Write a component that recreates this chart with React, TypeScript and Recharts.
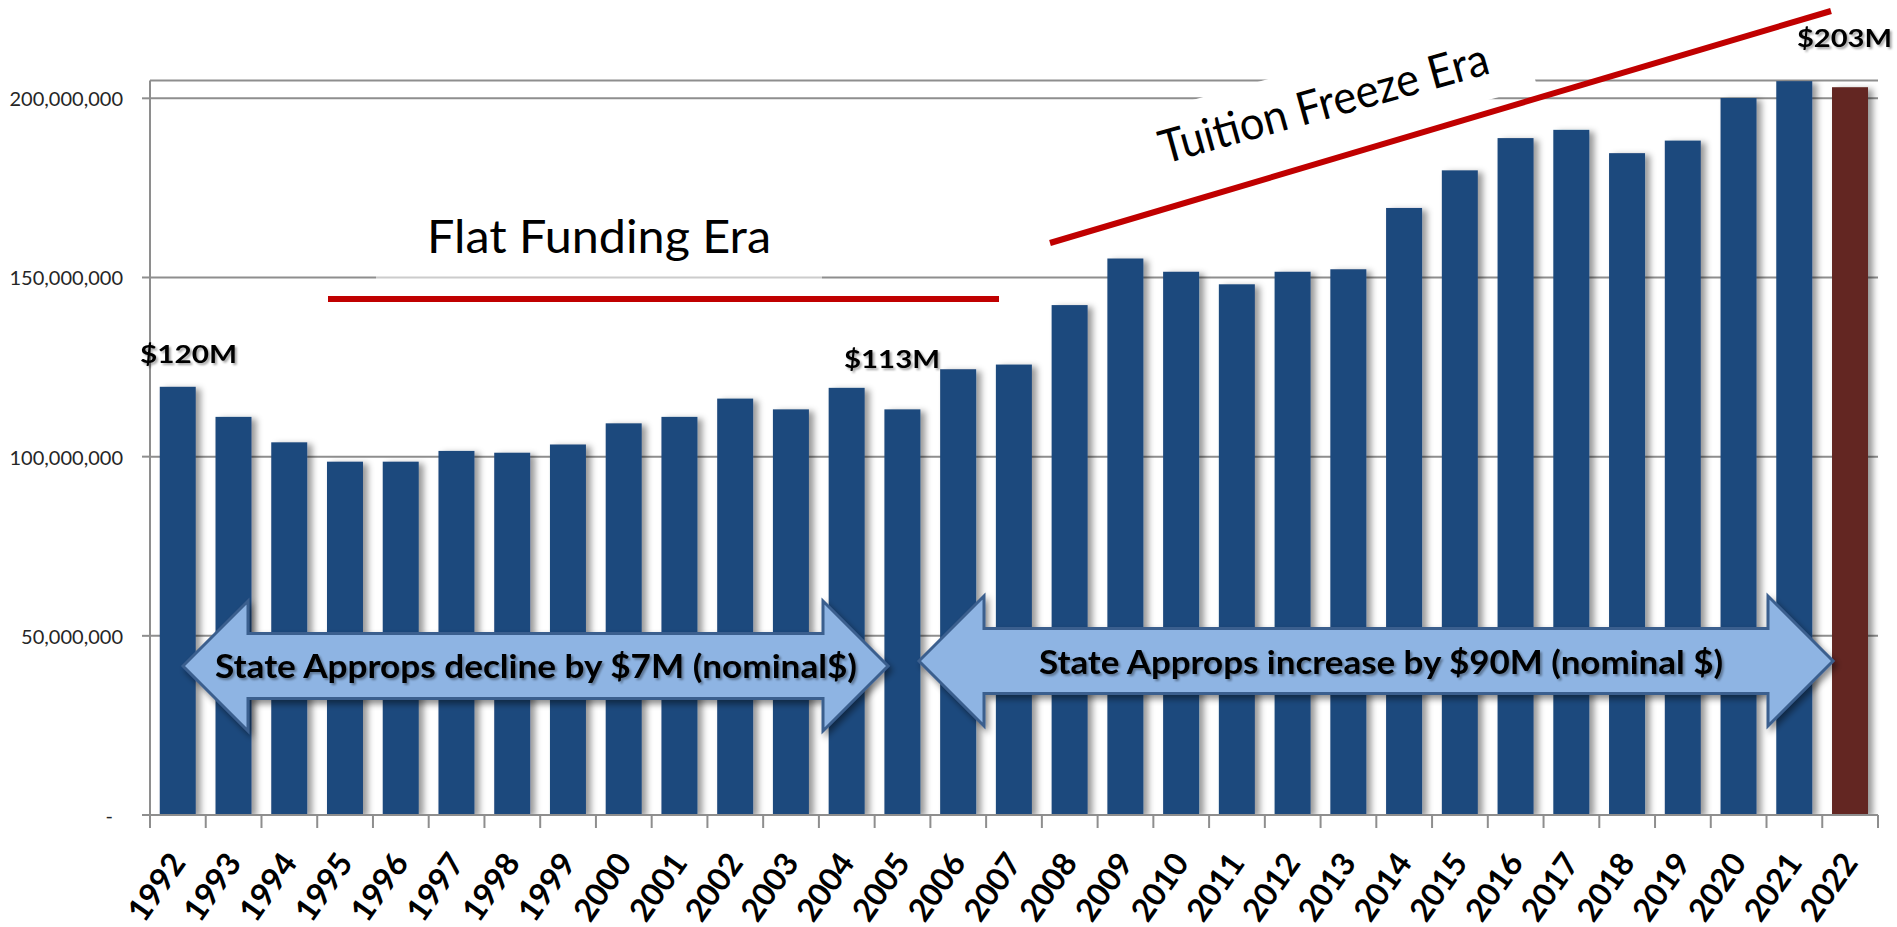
import React from 'react';
import { BarChart, Bar, XAxis, YAxis, CartesianGrid, Cell } from 'recharts';

// state appropriations by fiscal year, in $M
const years = [
  '1992', '1993', '1994', '1995', '1996', '1997', '1998', '1999', '2000', '2001',
  '2002', '2003', '2004', '2005', '2006', '2007', '2008', '2009', '2010', '2011',
  '2012', '2013', '2014', '2015', '2016', '2017', '2018', '2019', '2020', '2021', '2022',
];
const appropsM = [
  119.5, 111.1, 104.0, 98.6, 98.6, 101.6, 101.1, 103.4, 109.3, 111.1,
  116.2, 113.2, 119.2, 113.2, 124.4, 125.7, 142.3, 155.3, 151.6, 148.1,
  151.6, 152.3, 169.4, 179.9, 188.9, 191.2, 184.7, 188.2, 200.1, 204.8, 203.1,
];
const yTicks = [0, 50000000, 100000000, 150000000, 200000000];
const valueLabels = ['$120M', '$113M', '$203M'];
const eraLabels = ['Flat Funding Era', 'Tuition Freeze Era'];
const arrowLabels = [
  'State Approps decline by $7M (nominal$)',
  'State Approps increase by $90M (nominal $)',
];

const data = years.map((year, i) => ({ year, approps: appropsM[i] * 1000000 }));

const W = 1897;
const H = 927;
const PLOT_LEFT = 150;
const PLOT_RIGHT = 1878;
const AXIS_Y = 815;
const BAND = (PLOT_RIGHT - PLOT_LEFT) / years.length;

const BLUE = '#1F497D';
const MAROON = '#632523';
const RED = '#C00000';
const GRID = '#8E8E8E';
const FONT = 'Lato, "Open Sans", sans-serif';

const YTick = (props: any) => {
  const { x, y, payload } = props;
  if (payload.value === 0) {
    return (
      <text x={x - 10} y={y} textAnchor="end" dominantBaseline="central" fontFamily={FONT} fontSize={20} fill="#262626">
        -
      </text>
    );
  }
  return (
    <text x={x} y={y} textAnchor="end" dominantBaseline="central" fontFamily={FONT} fontSize={20} fill="#262626">
      {payload.value.toLocaleString('en-US')}
    </text>
  );
};

const XTick = (props: any) => {
  const { x, payload, index } = props;
  const left = x - BAND / 2;
  const lx = x + 9;
  const ly = AXIS_Y + 48;
  return (
    <g>
      <line x1={left} y1={AXIS_Y} x2={left} y2={AXIS_Y + 13} stroke={GRID} strokeWidth={2} />
      {index === years.length - 1 && (
        <line x1={x + BAND / 2} y1={AXIS_Y} x2={x + BAND / 2} y2={AXIS_Y + 13} stroke={GRID} strokeWidth={2} />
      )}
      <text
        x={lx}
        y={ly}
        textAnchor="end"
        transform={`rotate(-55 ${lx} ${ly})`}
        fontFamily={FONT}
        fontWeight={700}
        fontSize={32}
        fill="#000"
      >
        {payload.value}
      </text>
    </g>
  );
};

const BarShape = (props: any) => {
  const { x, y, width, height, fill } = props;
  return <rect x={x} y={y} width={width} height={height} fill={fill} filter="url(#barShadow)" />;
};

// double headed block arrow
const arrowPoints = (x1: number, x2: number, cy: number, body: number, head: number, len: number) =>
  [
    [x1, cy],
    [x1 + len, cy - head],
    [x1 + len, cy - body],
    [x2 - len, cy - body],
    [x2 - len, cy - head],
    [x2, cy],
    [x2 - len, cy + head],
    [x2 - len, cy + body],
    [x1 + len, cy + body],
    [x1 + len, cy + head],
  ]
    .map((p) => p.join(','))
    .join(' ');

const Overlay = () => (
  <svg width={W} height={H} style={{ position: 'absolute', left: 0, top: 0, pointerEvents: 'none' }}>
    <defs>
      <filter id="arrowShadow" x="-10%" y="-40%" width="120%" height="180%">
        <feDropShadow dx="3" dy="4" stdDeviation="3" floodColor="#000" floodOpacity="0.45" />
      </filter>
      <filter id="textShadow" x="-5%" y="-30%" width="110%" height="160%">
        <feDropShadow dx="2" dy="2" stdDeviation="1.2" floodColor="#000" floodOpacity="0.35" />
      </filter>
    </defs>

    {/* text boxes hiding the gridlines */}
    <rect x={376} y={275} width={446} height={7} fill="#fff" opacity={0.55} />
    <g transform="rotate(-15.5 1328 118.5)">
      <rect x={1328 - 210} y={118.5 - 54} width={420} height={79} fill="#fff" />
    </g>

    <line x1={328} y1={299} x2={999} y2={299} stroke={RED} strokeWidth={6} />
    <line x1={1050} y1={243} x2={1831} y2={11} stroke={RED} strokeWidth={6} />

    <text x={599} y={253} textAnchor="middle" fontFamily={FONT} fontSize={46} fill="#000" textLength={344} lengthAdjust="spacingAndGlyphs">
      {eraLabels[0]}
    </text>
    <text
      x={1328}
      y={118.5}
      textAnchor="middle"
      transform="rotate(-15.5 1328 118.5)"
      fontFamily={FONT}
      fontSize={46}
      fill="#000"
      textLength={340}
      lengthAdjust="spacingAndGlyphs"
    >
      {eraLabels[1]}
    </text>

    <g fontFamily={FONT} fontWeight={700} fontSize={25} fill="#000" filter="url(#textShadow)">
      <text x={140} y={363} textLength={97} lengthAdjust="spacingAndGlyphs">{valueLabels[0]}</text>
      <text x={844} y={368} textLength={96} lengthAdjust="spacingAndGlyphs">{valueLabels[1]}</text>
      <text x={1797} y={47} textLength={95} lengthAdjust="spacingAndGlyphs">{valueLabels[2]}</text>
    </g>

    <polygon
      points={arrowPoints(183, 888, 666, 32.5, 65, 65)}
      fill="#8EB4E3"
      stroke="#3A5F8E"
      strokeWidth={3}
      strokeLinejoin="miter"
      filter="url(#arrowShadow)"
    />
    <polygon
      points={arrowPoints(919, 1833, 661, 32.5, 65, 65)}
      fill="#8EB4E3"
      stroke="#3A5F8E"
      strokeWidth={3}
      strokeLinejoin="miter"
      filter="url(#arrowShadow)"
    />
    <g fontFamily={FONT} fontWeight={700} fontSize={32} fill="#000" filter="url(#textShadow)">
      <text x={215} y={678} textLength={642} lengthAdjust="spacingAndGlyphs">{arrowLabels[0]}</text>
      <text x={1039} y={674} textLength={684} lengthAdjust="spacingAndGlyphs">{arrowLabels[1]}</text>
    </g>
  </svg>
);

export default function App() {
  return (
    <div style={{ position: 'absolute', left: 0, top: 0, width: W, height: H, background: '#fff', overflow: 'hidden' }}>
      <BarChart
        width={W}
        height={H}
        data={data}
        margin={{ top: 80.4, right: W - PLOT_RIGHT, bottom: 0, left: 0 }}
        barCategoryGap="17.5%"
      >
        <defs>
          <filter id="barShadow" x="-20%" y="-5%" width="170%" height="110%">
            <feDropShadow dx="5" dy="2" stdDeviation="3" floodColor="#000" floodOpacity="0.4" />
          </filter>
        </defs>
        <CartesianGrid vertical={false} stroke={GRID} strokeWidth={2} />
        <XAxis
          dataKey="year"
          interval={0}
          height={H - AXIS_Y}
          tickLine={false}
          tickSize={0}
          tickMargin={0}
          axisLine={{ stroke: GRID, strokeWidth: 2 }}
          tick={<XTick />}
        />
        <YAxis
          width={PLOT_LEFT}
          domain={[0, 205000000]}
          ticks={yTicks}
          allowDataOverflow
          tickSize={8}
          tickMargin={19}
          tickLine={{ stroke: GRID, strokeWidth: 2 }}
          axisLine={{ stroke: GRID, strokeWidth: 2 }}
          tick={<YTick />}
        />
        <Bar dataKey="approps" isAnimationActive={false} shape={<BarShape />}>
          {data.map((d, i) => (
            <Cell key={d.year} fill={i === data.length - 1 ? MAROON : BLUE} />
          ))}
        </Bar>
      </BarChart>
      <Overlay />
    </div>
  );
}
